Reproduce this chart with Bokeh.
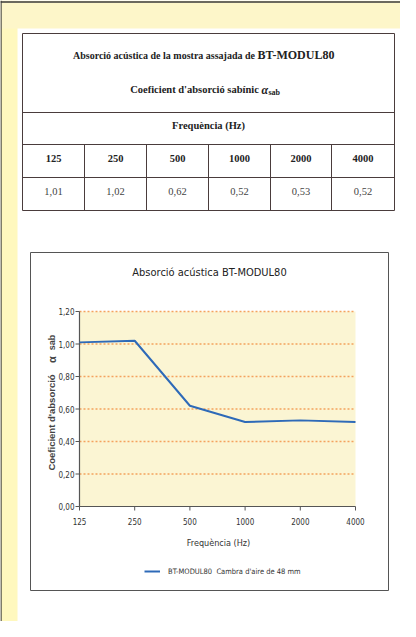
import numpy as np
from bokeh.plotting import figure
from bokeh.models import Range1d, LogScale, LinearScale, Legend, LegendItem
from bokeh.core.properties import value
from bokeh.embed import file_html
from bokeh.resources import INLINE

# ---------------- data ----------------
freqs = [125, 250, 500, 1000, 2000, 4000]
freq_labels = ["125", "250", "500", "1000", "2000", "4000"]
coef = [1.01, 1.02, 0.62, 0.52, 0.53, 0.52]
coef_labels = ["1,01", "1,02", "0,62", "0,52", "0,53", "0,52"]
y_ticks = [0.0, 0.2, 0.4, 0.6, 0.8, 1.0, 1.2]
y_tick_labels = ["0,00", "0,20", "0,40", "0,60", "0,80", "1,00", "1,20"]
table_title = "Absorció acústica de la mostra assajada de "
product = "BT-MODUL80"
coef_title = "Coeficient d'absorció sabínic "
freq_title = "Frequència (Hz)"
chart_title = "Absorció acústica BT-MODUL80"
y_title = "Coeficient d'absorció"
legend_text = "BT-MODUL80  Cambra d'aire de 48 mm"

# ---------------- layout ----------------
W, H = 400, 621
NARROW_STR = "DejaVu Sans Condensed"
SERIF = value("Liberation Serif")
NARROW = value(NARROW_STR)
SANS = value("Liberation Sans")

p = figure(width=W, height=H, x_range=Range1d(0, W), y_range=Range1d(H, 0),
           x_axis_type=None, y_axis_type=None, output_backend="svg",
           toolbar_location=None, min_border=0)
p.outline_line_color = None
p.background_fill_color = "white"
p.border_fill_color = "white"

# chart plot-area in page pixels
ax_l, ax_r, ax_t, ax_b = 79, 355, 311, 506
octave_px = (ax_r - ax_l) / np.log2(freqs[-1] / freqs[0])
x_start = freqs[0] * 2 ** (-ax_l / octave_px)
x_end = freqs[0] * 2 ** ((W - ax_l) / octave_px)
per_px = y_ticks[-1] / (ax_b - ax_t)
p.extra_x_ranges = {"f": Range1d(x_start, x_end)}
p.extra_x_scales = {"f": LogScale()}
p.extra_y_ranges = {"c": Range1d((ax_b - H) * per_px, ax_b * per_px)}
p.extra_y_scales = {"c": LinearScale()}
CR = dict(x_range_name="f", y_range_name="c")

# background yellow strips and dark frame lines
p.quad(left=0, right=17, top=0, bottom=H, fill_color="#FFF8BE", line_color=None)
p.quad(left=0, right=W, top=0, bottom=28, fill_color="#FDF6C9", line_color=None)
p.segment(x0=[0.5, 0], y0=[0, 1.5], x1=[0.5, W], y1=[H, 1.5], line_color="#3a3a3a", line_width=1.3)

# ---------------- table ----------------
tl, tr, tt, tb = 22, 394, 33, 210
p.quad(left=tl, right=tr, top=tt, bottom=tb, fill_color="white", line_color="#4a3c3c", line_width=1)
row_lines = [112, 144, 177]
p.segment(x0=[tl] * 3, x1=[tr] * 3, y0=row_lines, y1=row_lines, line_color="#4a3c3c", line_width=1)
col_edges = [22, 84, 146, 208, 270, 331, 394]
inner = col_edges[1:-1]
p.segment(x0=inner, x1=inner, y0=[144] * len(inner), y1=[tb] * len(inner), line_color="#4a3c3c", line_width=1)
col_centers = [(a + b) / 2 for a, b in zip(col_edges[:-1], col_edges[1:])]

p.text(x=[257], y=[55], text=[table_title], text_font=SERIF, text_font_style="bold",
       text_font_size="10px", text_align="right", text_baseline="middle", text_color="#222")
p.text(x=[257], y=[54], text=[product], text_font=SERIF, text_font_style="bold",
       text_font_size="12px", text_align="left", text_baseline="middle", text_color="#222")
p.text(x=[261], y=[89], text=[coef_title], text_font=SERIF, text_font_style="bold",
       text_font_size="10.5px", text_align="right", text_baseline="middle", text_color="#222")
p.text(x=[261], y=[89], text=["α"], text_font=SERIF, text_font_style="bold italic",
       text_font_size="12px", text_align="left", text_baseline="middle", text_color="#222")
p.text(x=[268], y=[92], text=["sab"], text_font=SERIF, text_font_style="bold",
       text_font_size="8px", text_align="left", text_baseline="middle", text_color="#222")
p.text(x=[(tl + tr) / 2], y=[125], text=[freq_title], text_font=SERIF, text_font_style="bold",
       text_font_size="10.5px", text_align="center", text_baseline="middle", text_color="#222")
p.text(x=col_centers, y=[158] * 6, text=freq_labels, text_font=SERIF, text_font_style="bold",
       text_font_size="10.5px", text_align="center", text_baseline="middle", text_color="#222")
p.text(x=col_centers, y=[191] * 6, text=coef_labels, text_font=SERIF,
       text_font_size="10.5px", text_align="center", text_baseline="middle", text_color="#444")

# ---------------- chart ----------------
p.quad(left=30, right=388, top=252, bottom=590, fill_color="white", line_color="#555555", line_width=1)
p.text(x=[209], y=[272], text=[chart_title], text_font=NARROW, text_font_size="11px",
       text_align="center", text_baseline="middle", text_color="#222")

# plot area background
p.quad(left=[freqs[0]], right=[freqs[-1]], bottom=[y_ticks[0]], top=[y_ticks[-1]],
       fill_color="#FBF5D3", line_color=None, **CR)
# dotted grid lines
g = y_ticks[1:]
p.segment(x0=[freqs[0]] * len(g), x1=[freqs[-1]] * len(g), y0=g, y1=g,
          line_color="#F4A25E", line_width=1.5, line_dash="2 2", **CR)
# axes lines
p.segment(x0=[freqs[0], freqs[0]], x1=[freqs[0], freqs[-1]], y0=[y_ticks[0], y_ticks[0]],
          y1=[y_ticks[-1], y_ticks[0]], line_color="#555555", line_width=1.2, **CR)
# ticks
p.ray(x=[freqs[0]] * len(y_ticks), y=y_ticks, length=4, length_units="screen", angle=np.pi,
      line_color="#555555", line_width=1, **CR)
p.ray(x=freqs, y=[y_ticks[0]] * len(freqs), length=4, length_units="screen", angle=-np.pi / 2,
      line_color="#555555", line_width=1, **CR)
# tick labels
p.text(x=[freqs[0]] * len(y_ticks), y=y_ticks, text=y_tick_labels, x_offset=-5,
       text_font=NARROW, text_font_size="8px", text_align="right", text_baseline="middle",
       text_color="#333", **CR)
p.text(x=freqs, y=[y_ticks[0]] * len(freqs), text=freq_labels, y_offset=15,
       text_font=NARROW, text_font_size="8px", text_align="center", text_baseline="middle",
       text_color="#333", **CR)
# axis titles
p.text(x=[218], y=[542], text=[freq_title], text_font=NARROW, text_font_size="9px",
       text_align="center", text_baseline="middle", text_color="#333")
p.text(x=[51], y=[422], text=[y_title], text_font=SANS, text_font_style="bold",
       text_font_size="9.5px", angle=np.pi / 2, text_align="center", text_baseline="middle",
       text_color="#444")
p.text(x=[51], y=[359], text=["α"], text_font=SANS, text_font_style="bold",
       text_font_size="11px", angle=np.pi / 2, text_align="center", text_baseline="middle",
       text_color="#444")
p.text(x=[51], y=[342], text=["sab"], text_font=SANS, text_font_style="bold",
       text_font_size="9px", angle=np.pi / 2, text_align="center", text_baseline="middle",
       text_color="#444")

# data line
line_r = p.line(x=freqs, y=coef, line_color="#2E6AB8", line_width=2, **CR)

legend = Legend(items=[LegendItem(label=legend_text, renderers=[line_r])],
                location=(144, 45), border_line_color=None, background_fill_alpha=0,
                padding=0, margin=0, spacing=0, glyph_width=16, glyph_height=10,
                label_height=10, label_standoff=8, label_text_font=NARROW_STR,
                label_text_font_size="7.5px", label_text_color="#333",
                label_text_baseline="middle")
p.add_layout(legend, "center")

open("out.html", "w").write(file_html(p, INLINE))
